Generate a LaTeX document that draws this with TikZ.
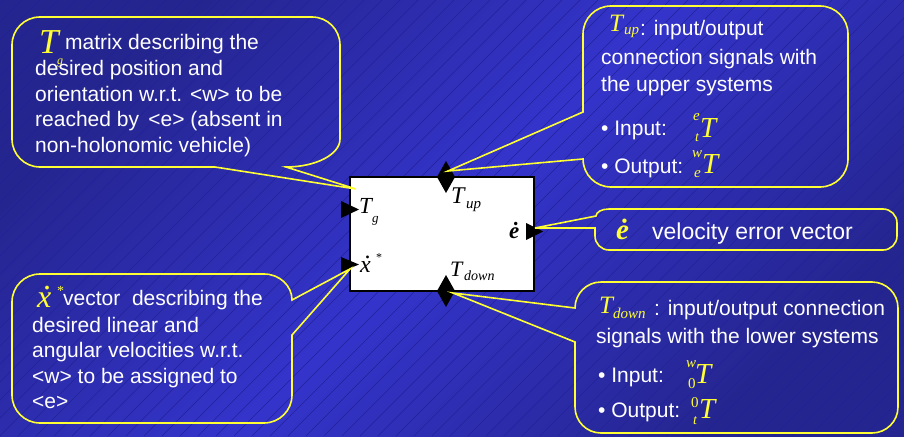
\documentclass[tikz,border=0pt]{standalone}
\usepackage{fontspec}
\setmainfont{Liberation Sans}
\newfontfamily\tim{Liberation Serif}
\usetikzlibrary{calc}
\definecolor{bgmid}{HTML}{3434CC}
\definecolor{bgdark}{HTML}{25258F}
\definecolor{hatch}{HTML}{22229A}
\definecolor{yel}{HTML}{FFFF33}
\newcommand{\dotx}{\ooalign{x\cr\hidewidth\kern.18em\raisebox{.56em}{\upshape.}\hidewidth\cr}}
\begin{document}
\begin{tikzpicture}[x=1pt,y=-1pt,
  callout/.style={draw=yel, line width=1.6pt},
  txt/.style={text=white, font=\fontsize{21}{25}\selectfont, anchor=base west, inner sep=0pt},
  sym/.style={text=yel, anchor=base west, inner sep=0pt},
  blk/.style={text=black, anchor=base west, inner sep=0pt},
  port/.style={fill=black}
]
\useasboundingbox (0,0) rectangle (904,436);
% background
\shade[top color=bgdark, bottom color=bgdark, middle color=bgmid, shading angle=45] (0,0) rectangle (904,436);
\begin{scope}
\clip (0,0) rectangle (904,436);
\foreach \i in {-450,-432,...,910} \draw[hatch, line width=0.5pt] (\i,436) -- (\i+436,0);
\end{scope}

% main block
\node[draw=black, fill=white, line width=1.5pt, minimum width=184, minimum height=114, inner sep=0pt] (blk) at (442,234) {};
\coordinate (pup) at (446,177);
\coordinate (pdown) at (446,291);
\coordinate (pg) at (350,209.5);
\coordinate (px) at (350,264.5);
\coordinate (pe) at (534,231.5);
\fill[port] ($(pup)+(0,-16)$) -- ($(pup)+(9,0)$) -- ($(pup)+(0,16)$) -- ($(pup)+(-9,0)$) -- cycle;
\fill[port] ($(pdown)+(0,-16)$) -- ($(pdown)+(9,0)$) -- ($(pdown)+(0,16)$) -- ($(pdown)+(-9,0)$) -- cycle;
\fill[port] ($(pg)+(-9,-8.5)$) -- ($(pg)+(9,0)$) -- ($(pg)+(-9,8.5)$) -- cycle;
\fill[port] ($(px)+(-9,-7.5)$) -- ($(px)+(9,0)$) -- ($(px)+(-9,7.5)$) -- cycle;
\fill[port] ($(pe)+(-8,-8.5)$) -- ($(pe)+(9,0)$) -- ($(pe)+(-8,8.5)$) -- cycle;

% block labels
\node[blk, font=\tim\itshape\fontsize{23}{23}\selectfont] (bTg) at (359,213) {T};
\node[blk, font=\tim\itshape\fontsize{13}{13}\selectfont] (bTgs) at (372,222) {g};
\node[blk, font=\tim\itshape\fontsize{24}{24}\selectfont] (bTu) at (451,203) {T};
\node[blk, font=\tim\itshape\fontsize{15}{15}\selectfont] (bTus) at (466,208) {up};
\node[blk, font=\tim\bfseries\itshape\fontsize{23}{23}\selectfont] (be) at (509,238) {ė};
\node[blk, font=\tim\itshape\fontsize{24}{24}\selectfont] (bx) at (360,272) {\dotx};
\node[blk, font=\tim\fontsize{12}{12}\selectfont] (bxs) at (376,261) {*};
\node[blk, font=\tim\itshape\fontsize{22}{22}\selectfont] (bTd) at (450,276) {T};
\node[blk, font=\tim\itshape\fontsize{14}{14}\selectfont] (bTds) at (464,280) {down};

% tips
\coordinate (tipg) at (356,189);
\coordinate (tipu) at (448,171);
\coordinate (tipe) at (535,228);
\coordinate (tipx) at (350,269);
\coordinate (tipd) at (453,293);

% callout 1 (Tg)
\draw[callout] (40,17) -- (312,17) arc[start angle=-90, end angle=0, radius=28] -- (340,139)
  arc[start angle=0, end angle=90, x radius=54, y radius=28] -- (tipg) -- (215,167) -- (40,167)
  arc[start angle=90, end angle=180, radius=28] -- (12,45) arc[start angle=180, end angle=270, radius=28] -- cycle;
\node[sym, font=\tim\itshape\fontsize{35}{35}\selectfont] (c1T) at (39,53) {T};
\node[sym, font=\tim\itshape\fontsize{12}{12}\selectfont] (c1g) at (57,64) {g};
\node[txt] (c1a) at (65,50) {matrix describing the};
\node[txt] (c1b) at (35,75.5) {desired position and};
\node[txt] (c1c) at (35,101) {orientation w.r.t. <w> to be};
\node[txt] (c1d) at (35,126.5) {reached by \,<e> (absent in};
\node[txt] (c1e) at (35,152) {non-holonomic vehicle)};

% callout 2 (Tup)
\draw[callout] (611,6) -- (820,6) arc[start angle=-90, end angle=0, radius=28] -- (848,159)
  arc[start angle=0, end angle=90, radius=28] -- (611,187) arc[start angle=90, end angle=180, radius=28]
  -- (583,159) -- (tipu) -- (583,112) -- (583,34) arc[start angle=180, end angle=270, radius=28] -- cycle;
\node[sym, font=\tim\itshape\fontsize{25}{25}\selectfont] (c2T) at (609,32) {T};
\node[sym, font=\tim\itshape\fontsize{15}{15}\selectfont] (c2Ts) at (624,35) {up};
\node[txt] (c2a) at (640,36) {: input/output};
\node[txt] (c2b) at (601,64) {connection signals with};
\node[txt] (c2c) at (601,91) {the upper systems};
\node[txt] (c2d) at (601,135) {•~Input:};
\node[sym, font=\tim\itshape\fontsize{15}{15}\selectfont] (c2de) at (693,120) {e};
\node[sym, font=\tim\itshape\fontsize{14}{14}\selectfont] (c2dt) at (695,141) {t};
\node[sym, font=\tim\itshape\fontsize{29}{29}\selectfont] (c2dT) at (700,137) {T};
\node[txt] (c2e) at (601,173) {•~Output:};
\node[sym, font=\tim\itshape\fontsize{15}{15}\selectfont] (c2ew) at (692,157) {w};
\node[sym, font=\tim\itshape\fontsize{15}{15}\selectfont] (c2ee) at (694,177) {e};
\node[sym, font=\tim\itshape\fontsize{29}{29}\selectfont] (c2eT) at (702,173) {T};

% callout 3 (e dot)
\draw[callout] (609,209) -- (883,209) arc[start angle=-90, end angle=0, radius=14] -- (897,236)
  arc[start angle=0, end angle=90, radius=14] -- (609,250) arc[start angle=90, end angle=180, radius=14]
  -- (595,228) -- (tipe) -- (596,216) arc[start angle=180, end angle=270, x radius=13, y radius=7] -- cycle;
\node[sym, font=\tim\bfseries\itshape\fontsize{29}{29}\selectfont] (c3e) at (616,239) {ė};
\node[txt, font=\fontsize{23}{25}\selectfont] (c3a) at (652,239) {velocity error vector};

% callout 4 (x dot star)
\draw[callout] (40,274) -- (264,274) arc[start angle=-90, end angle=0, x radius=28, y radius=26] -- (tipx)
  -- (292,335) -- (292,395) arc[start angle=0, end angle=90, radius=28] -- (40,423)
  arc[start angle=90, end angle=180, radius=28] -- (12,302) arc[start angle=180, end angle=270, radius=28] -- cycle;
\node[sym, font=\tim\itshape\fontsize{32}{32}\selectfont] (c4x) at (37,307) {\dotx};
\node[sym, font=\tim\fontsize{14}{14}\selectfont] (c4s) at (57,295) {*};
\node[txt] (c4a) at (63,305) {vector \ describing the};
\node[txt] (c4b) at (32,332) {desired linear and};
\node[txt] (c4c) at (32,357) {angular velocities w.r.t.};
\node[txt] (c4d) at (32,383) {<w> to be assigned to};
\node[txt] (c4e) at (32,408) {<e>};

% callout 5 (Tdown)
\draw[callout] (601,282) -- (872,282) arc[start angle=-90, end angle=0, radius=26] -- (898,407)
  arc[start angle=0, end angle=90, radius=26] -- (601,433) arc[start angle=90, end angle=180, radius=26]
  -- (575,342) -- (tipd) -- (575,308) arc[start angle=180, end angle=270, radius=26] -- cycle;
\node[sym, font=\tim\itshape\fontsize{25}{25}\selectfont] (c5T) at (599,313) {T};
\node[sym, font=\tim\itshape\fontsize{15}{15}\selectfont] (c5Ts) at (613,318) {down};
\node[txt] (c5a) at (654,315) {: input/output connection};
\node[txt] (c5b) at (596,343) {signals with the lower systems};
\node[txt] (c5c) at (598,382) {•~Input:};
\node[sym, font=\tim\itshape\fontsize{15}{15}\selectfont] (c5cw) at (686,367) {w};
\node[sym, font=\tim\fontsize{15}{15}\selectfont] (c5c0) at (688,388) {0};
\node[sym, font=\tim\itshape\fontsize{29}{29}\selectfont] (c5cT) at (695,383) {T};
\node[txt] (c5d) at (598,417) {•~Output:};
\node[sym, font=\tim\fontsize{15}{15}\selectfont] (c5d0) at (691,407) {0};
\node[sym, font=\tim\itshape\fontsize{14}{14}\selectfont] (c5dt) at (693,424) {t};
\node[sym, font=\tim\itshape\fontsize{29}{29}\selectfont] (c5dT) at (699,418) {T};
\end{tikzpicture}
\end{document}
